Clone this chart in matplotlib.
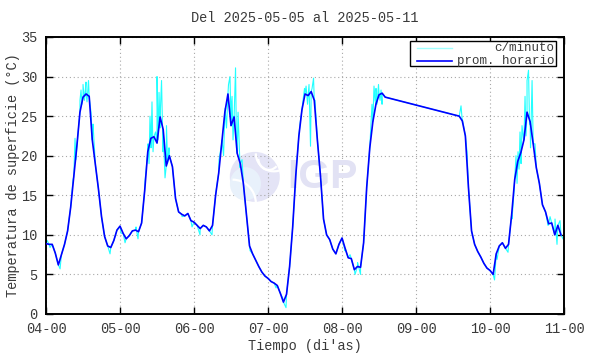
import matplotlib.pyplot as plt
from matplotlib.patches import Ellipse, Arc, Rectangle
from matplotlib.lines import Line2D

# hourly averages (hour 0..23) for each day
d04 = [8.9, 8.8, 8.8, 7.7, 6.2, 7.5, 8.8, 10.5, 13.5, 17.3, 21.2, 25.5,
       27.4, 27.8, 27.5, 22.0, 18.9, 15.8, 12.3, 9.8, 8.6, 8.4, 9.3, 10.6]
d05 = [11.1, 10.2, 9.5, 9.9, 10.5, 10.6, 10.4, 11.5, 15.6, 20.5, 22.2, 22.4,
       21.6, 24.9, 23.3, 18.7, 20.0, 18.6, 14.6, 12.9, 12.6, 12.4, 12.7, 11.8]
d06 = [11.6, 11.2, 10.8, 11.2, 11.0, 10.5, 11.2, 15.0, 17.8, 21.6, 25.5, 27.8,
       23.8, 24.9, 20.3, 19.0, 16.5, 12.5, 8.6, 7.6, 6.8, 6.0, 5.3, 4.8]
d07 = [4.5, 4.1, 3.9, 3.6, 2.6, 1.5, 2.5, 6.0, 11.0, 17.5, 22.5, 25.8,
       27.8, 27.6, 28.1, 27.0, 22.0, 17.5, 12.0, 10.0, 9.4, 8.2, 7.6, 8.8]
d08 = [9.6, 8.3, 7.1, 7.0, 5.6, 6.0, 5.9, 9.0, 16.0, 21.0, 24.3, 26.5,
       27.7, 27.9, 27.4]                      # hours 0..14, then no data
d09 = [25.0, 24.4, 22.5, 16.0, 10.5, 8.8, 7.9, 7.2, 6.4, 5.8]  # hours 14..23
d10 = [5.5, 5.0, 7.6, 8.6, 9.0, 8.3, 8.8, 12.5, 17.0, 19.3, 20.4, 22.0,
       25.5, 24.3, 21.5, 18.5, 16.5, 13.8, 12.9, 11.4, 11.5, 10.0, 11.2, 10.0]

# per-minute excursions (days since 04-00, value)
spike_t = [0.014, 0.054, 0.19, 0.365, 0.392, 0.405, 0.459, 0.473, 0.486, 0.5, 0.52,
           0.54, 0.554, 0.574, 0.588, 0.608, 0.628, 0.635, 0.865, 0.905,
           1.013, 1.068, 1.216, 1.243, 1.338, 1.378, 1.392, 1.405, 1.419, 1.432,
           1.446, 1.48, 1.5, 1.514, 1.527, 1.541, 1.561, 1.581, 1.608, 1.628,
           1.642, 1.662, 1.838, 1.973,
           2.081, 2.243, 2.297, 2.338, 2.378, 2.399, 2.419, 2.439, 2.466, 2.486,
           2.5, 2.514, 2.527, 2.541, 2.561, 2.574, 2.595, 2.622, 2.649, 2.676, 2.757,
           3.108, 3.2, 3.243, 3.432, 3.473, 3.493, 3.514, 3.534, 3.554, 3.574,
           3.595, 3.615, 3.635, 4.04,
           4.108, 4.176, 4.21, 4.25, 4.405, 4.432, 4.446, 4.459, 4.473, 4.493,
           4.514, 4.527, 4.541,
           5.608, 5.628, 5.689,
           6.061, 6.095, 6.243, 6.297, 6.324, 6.351, 6.365, 6.378, 6.392, 6.405,
           6.419, 6.432, 6.453, 6.473, 6.486, 6.5, 6.52, 6.534, 6.547, 6.568,
           6.581, 6.608, 6.784, 6.811, 6.878, 6.905, 6.946, 6.986]
spike_v = [9.3, 8.4, 5.7, 17.0, 22.2, 19.5, 27.0, 28.3, 26.5, 29.0, 27.0,
           29.3, 26.8, 29.5, 27.0, 25.5, 23.0, 24.0, 7.6, 9.0,
           10.2, 9.0, 11.0, 9.5, 16.8, 21.5, 19.0, 25.0, 21.0, 26.8,
           20.5, 23.0, 30.0, 22.0, 28.0, 23.5, 29.5, 20.5, 17.2, 23.8,
           19.0, 21.0, 12.3, 11.0,
           10.0, 10.0, 15.5, 19.5, 22.0, 20.0, 26.0, 23.5, 29.0, 30.0,
           26.0, 27.5, 22.0, 25.0, 31.1, 21.0, 25.5, 18.5, 19.5, 15.5, 8.0,
           3.3, 2.0, 0.8, 24.0, 27.0, 28.5, 28.8, 26.5, 29.0, 21.2,
           28.5, 29.8, 27.0, 8.0,
           7.5, 5.0, 6.5, 5.0, 26.5, 28.8, 27.0, 28.5, 26.5, 29.0,
           27.0, 28.3, 26.5,
           26.3, 24.5, 20.5,
           4.3, 6.9, 7.8, 12.0, 15.5, 20.0, 16.5, 20.5, 18.3, 23.0,
           19.0, 23.8, 22.0, 27.5, 22.5, 29.5, 30.8, 24.0, 21.0, 29.5,
           22.5, 21.5, 11.2, 12.3, 12.0, 8.8, 11.8, 9.5]

day_labels = ['04-00', '05-00', '06-00', '07-00', '08-00', '09-00', '10-00', '11-00']

# build hourly time axis (days since 04-00)
t_h, v_h = [], []
for day, start, vals in [(0, 0, d04), (1, 0, d05), (2, 0, d06), (3, 0, d07),
                         (4, 0, d08), (5, 14, d09), (6, 0, d10)]:
    for i, v in enumerate(vals):
        t_h.append(day + (start + i) / 24)
        v_h.append(v)

cyan = sorted(zip(t_h + spike_t, v_h + spike_v))
t_c = [p[0] for p in cyan]
v_c = [p[1] for p in cyan]

mono = 'Liberation Mono'
txt = '#3a3a3a'

fig = plt.figure(figsize=(5.9, 3.54), dpi=100)
ax = fig.add_axes([0.078, 0.113, 0.878, 0.7825])

# faint IGP watermark
ax.add_patch(Ellipse((0.403, 0.495), 0.0965, 0.1805, transform=ax.transAxes,
                     facecolor='#e4e4f6', edgecolor='none', zorder=0.5))
ax.add_patch(Ellipse((0.385, 0.47), 0.06, 0.12, transform=ax.transAxes,
                     facecolor='#e8f1fb', edgecolor='none', zorder=0.55))
for cx, cy, w, h, a1, a2 in [(0.36, 0.40, 0.09, 0.17, 0, 90),
                              (0.44, 0.58, 0.07, 0.13, 180, 300),
                              (0.43, 0.56, 0.04, 0.08, 180, 300)]:
    ax.add_patch(Arc((cx, cy), w, h, theta1=a1, theta2=a2, transform=ax.transAxes,
                     color='white', lw=1.6, zorder=0.6))
ax.text(0.533, 0.495, 'IGP', transform=ax.transAxes, ha='center', va='center',
        fontsize=29.5, fontweight='bold', family='Liberation Sans',
        color='#e2e2f4', zorder=0.6)

ax.plot(t_c, v_c, color='#22ffff', lw=0.8, zorder=2)
ax.plot(t_h, v_h, color='#0000ff', lw=1.2, zorder=3)

ax.set_xlim(0, 7)
ax.set_ylim(0, 35)
ax.set_xticks(range(8))
ax.set_xticklabels(day_labels)
ax.set_yticks(range(0, 36, 5))
ax.grid(True, color='#a8a8a8', linestyle=(0, (1, 2.5)), lw=0.8, zorder=1)
ax.set_axisbelow(True)
ax.tick_params(direction='in', length=5, width=1, top=True, right=True,
               labelsize=9.8, labelcolor=txt, pad=6)
for lab in ax.get_xticklabels() + ax.get_yticklabels():
    lab.set_family(mono)
for s in ax.spines.values():
    s.set_linewidth(1.4)

# gnuplot-like legend box
ax.add_patch(Rectangle((0.703, 0.895), 0.282, 0.091, transform=ax.transAxes,
                       facecolor='white', edgecolor='black', lw=1, zorder=4))
ax.add_line(Line2D([0.716, 0.784], [0.960, 0.960], transform=ax.transAxes,
                   color='#a0ffff', lw=1, zorder=5))
ax.add_line(Line2D([0.716, 0.784], [0.913, 0.913], transform=ax.transAxes,
                   color='#0000ff', lw=1.2, zorder=5))
ax.text(0.981, 0.960, 'c/minuto', transform=ax.transAxes, ha='right', va='center',
        family=mono, fontsize=9.0, color=txt, zorder=5)
ax.text(0.981, 0.913, 'prom. horario', transform=ax.transAxes, ha='right',
        va='center', family=mono, fontsize=9.0, color=txt, zorder=5)

fig.text(0.517, 0.949, 'Del 2025-05-05 al 2025-05-11', ha='center', va='center',
         family=mono, fontsize=9.8, color=txt)
fig.text(0.517, 0.024, "Tiempo (di'as)", ha='center', va='center',
         family=mono, fontsize=9.8, color=txt)
fig.text(0.022, 0.504, 'Temperatura de superficie (°C)', ha='center', va='center',
         rotation=90, family=mono, fontsize=9.8, color=txt)

fig.savefig('out.png', dpi=100)
